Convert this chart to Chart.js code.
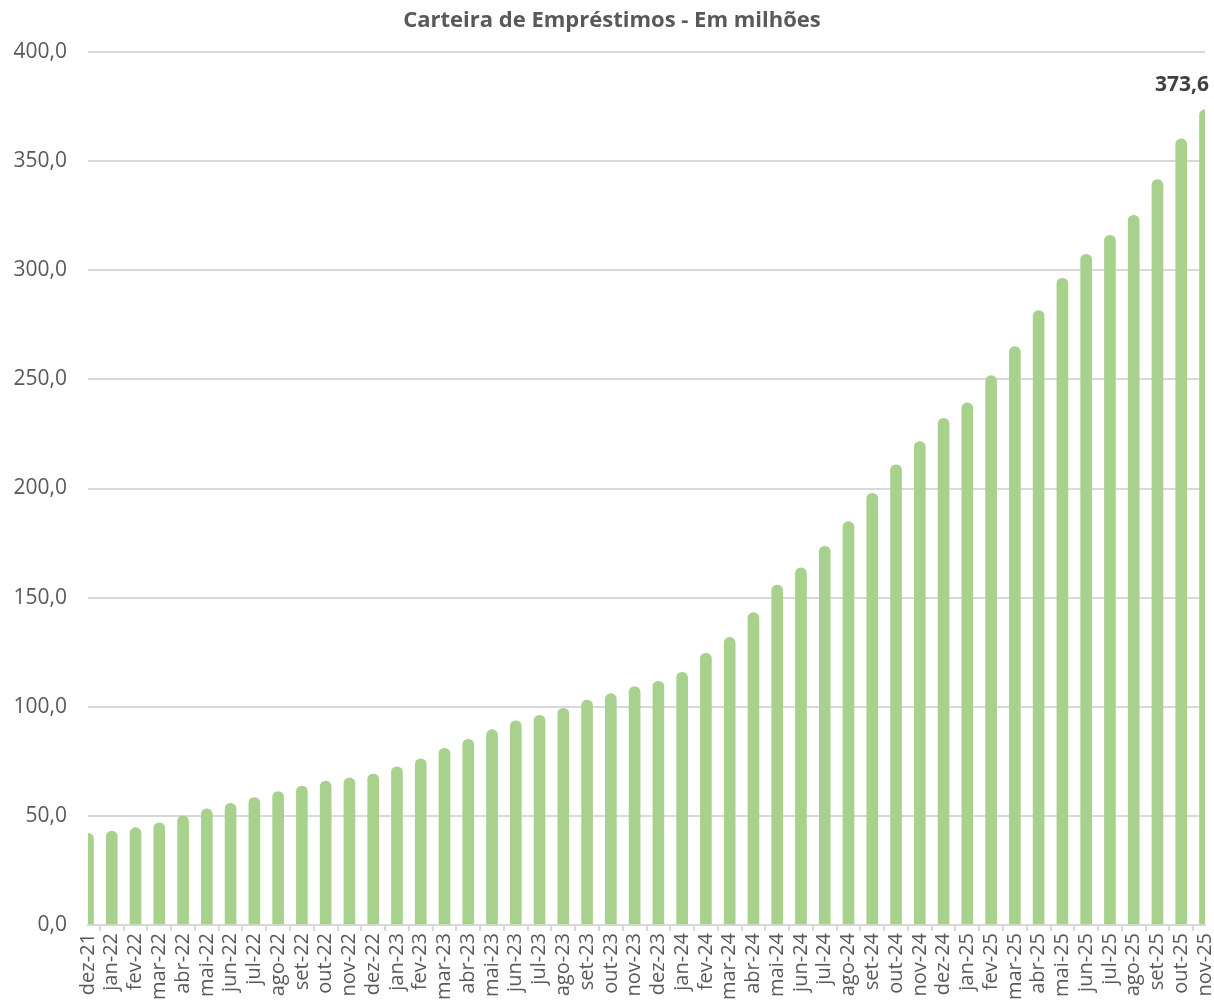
<!DOCTYPE html>
<html>
<head>
<meta charset="utf-8">
<script src="https://cdn.jsdelivr.net/npm/chart.js@4.4.1/dist/chart.umd.min.js"></script>
<style>
  body { margin: 0; background: #fff; }
  #wrap { width: 1214px; height: 1008px; position: relative; }
</style>
</head>
<body>
<div id="wrap"><canvas id="carteira"></canvas></div>
<script>
// meses (eixo x)
var meses = ["dez-21","jan-22","fev-22","mar-22","abr-22","mai-22","jun-22","jul-22","ago-22","set-22","out-22","nov-22",
             "dez-22","jan-23","fev-23","mar-23","abr-23","mai-23","jun-23","jul-23","ago-23","set-23","out-23","nov-23",
             "dez-23","jan-24","fev-24","mar-24","abr-24","mai-24","jun-24","jul-24","ago-24","set-24","out-24","nov-24",
             "dez-24","jan-25","fev-25","mar-25","abr-25","mai-25","jun-25","jul-25","ago-25","set-25","out-25","nov-25"];

// carteira em milhoes
var carteira = [42.0, 43.0, 44.6, 46.8, 50.0, 53.2, 55.8, 58.4, 61.1, 63.7, 65.9, 67.4,
                69.2, 72.5, 76.1, 81.0, 85.1, 89.5, 93.6, 96.1, 99.3, 103.0, 106.0, 109.2,
                111.7, 115.8, 124.5, 131.8, 143.1, 155.7, 163.6, 173.5, 184.8, 197.8, 210.9, 221.5,
                232.2, 239.2, 251.7, 265.0, 281.5, 296.3, 307.3, 316.0, 325.2, 341.5, 360.2, 373.6];

var yMin = 0, yMax = 400, yStep = 50;
var titulo = "Carteira de Empréstimos - Em milhões";

var cinza = "#595959";
var verde = "#a9d18e";
var fonte = "'Open Sans', sans-serif";

function fmt(v) {
    return v.toFixed(1).replace(".", ",");
}

// titulo centrado na pagina + rotulo so no ultimo ponto
var textos = {
    id: "textos",
    afterDraw: function(chart) {
        var ctx = chart.ctx;
        ctx.save();
        ctx.font = "bold 22px " + fonte;
        ctx.fillStyle = cinza;
        ctx.textAlign = "center";
        ctx.textBaseline = "middle";
        ctx.fillText(titulo, 612, 21);

        var meta = chart.getDatasetMeta(0);
        var i = meta.data.length - 1;
        var bar = meta.data[i];
        var txt = fmt(carteira[i]);
        ctx.font = "bold 21px " + fonte;
        ctx.fillStyle = "#404040";
        var w = ctx.measureText(txt).width;
        var x = Math.min(bar.x, chart.width - 5 - w / 2);
        ctx.fillText(txt, x, bar.y - 25);
        ctx.restore();
    }
};

var ctx = document.getElementById("carteira");

var grafico = new Chart(ctx, {
    type: "bar",
    data: {
        labels: meses,
        datasets: [
            {
                label: "Carteira de Empréstimos",
                data: carteira,
                backgroundColor: verde,
                barThickness: 11,
                borderRadius: {topLeft: 5.5, topRight: 5.5, bottomLeft: 0, bottomRight: 0},
                borderSkipped: false,
                clip: 0
            }
        ]
    },
    options: {
        responsive: true,
        maintainAspectRatio: false,
        animation: false,
        layout: {padding: {top: 52, right: 9, left: 0, bottom: 0}},
        plugins: {
            legend: {display: false},
            tooltip: {enabled: false},
            title: {display: false}
        },
        scales: {
            x: {
                type: "category",
                offset: false,
                grid: {display: true, drawOnChartArea: false, drawTicks: true, tickLength: 6, color: "#d9d9d9", lineWidth: 2},
                border: {display: true, color: "#d9d9d9", width: 2},
                ticks: {
                    autoSkip: false, maxRotation: 90, minRotation: 90,
                    color: cinza, padding: 2,
                    font: {family: fonte, size: 20}
                },
                afterFit: function(scale) {
                    scale.height = 83;
                    scale.paddingLeft = 0;
                    scale.paddingRight = 0;
                }
            },
            y: {
                min: yMin, max: yMax,
                grid: {color: "#d9d9d9", lineWidth: 2, drawTicks: false},
                border: {display: false},
                ticks: {
                    stepSize: yStep, color: cinza, padding: 21,
                    font: {family: fonte, size: 21},
                    callback: function(v) { return fmt(v); }
                },
                afterFit: function(scale) {
                    scale.width = 88;
                    scale.paddingTop = 0;
                }
            }
        }
    },
    plugins: [textos]
});
</script>
</body>
</html>
